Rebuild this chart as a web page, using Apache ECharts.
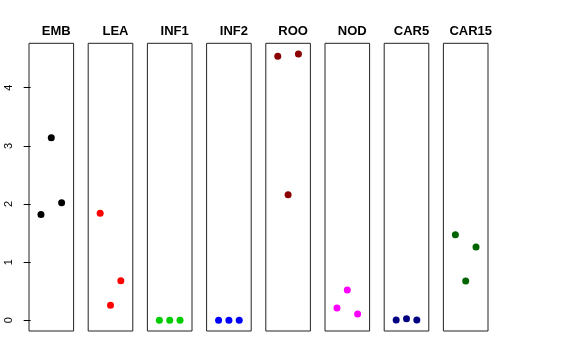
<!DOCTYPE html>
<html>
<head>
<meta charset="utf-8">
<script src="https://cdn.jsdelivr.net/npm/echarts@6/dist/echarts.min.js"></script>
<style>html,body{margin:0;padding:0;background:#fff}#c{width:576px;height:360px}</style>
</head>
<body>
<div id="c"></div>
<script>
const panels = ["EMB","LEA","INF1","INF2","ROO","NOD","CAR5","CAR15"];
const xPositions = [1, 2, 3];
const EMB = [1.82, 3.14, 2.02];
const LEA = [1.84, 0.26, 0.68];
const INF1 = [0, 0, 0];
const INF2 = [0, 0, 0];
const ROO = [4.54, 2.16, 4.58];
const NOD = [0.21, 0.52, 0.11];
const CAR5 = [0.005, 0.025, 0.005];
const CAR15 = [1.47, 0.675, 1.26];
const seriesValues = [EMB, LEA, INF1, INF2, ROO, NOD, CAR5, CAR15];
const colors = ["#000000","#FF0000","#00CD00","#0000FF","#8B0000","#FF00FF","#000080","#006400"];
const yTicks = [0, 1, 2, 3, 4];

const chart = echarts.init(document.getElementById('c'), null, {renderer:'canvas'});
const grids = [], xAxes = [], yAxes = [], series = [], titles = [];
const L0 = 29, STEP = 59.2, W = 44.6, TOP = 43.3, H = 287.7;
const yMin = -0.184, yMax = 4.764;
panels.forEach((name, i) => {
  const left = L0 + i * STEP;
  grids.push({left: left, top: TOP, width: W, height: H, show: true, borderColor: '#222', borderWidth: 1, backgroundColor: 'transparent'});
  xAxes.push({type: 'value', gridIndex: i, min: -0.16, max: 4.16, show: false});
  yAxes.push({
    type: 'value', gridIndex: i, min: yMin, max: yMax, show: i === 0,
    splitLine: {show: false},
    axisLine: {show: false},
    axisTick: {show: true, length: 7, customValues: yTicks, lineStyle: {color: '#000'}},
    axisLabel: {show: true, rotate: 90, margin: 15, customValues: yTicks, fontFamily: 'Liberation Sans, Arial, sans-serif', fontSize: 11, color: '#000'}
  });
  series.push({
    type: 'scatter', xAxisIndex: i, yAxisIndex: i, symbol: 'circle', symbolSize: 7,
    itemStyle: {color: colors[i], opacity: 1}, silent: true,
    data: xPositions.map((x, k) => [x, seriesValues[i][k]])
  });
  titles.push({
    text: name, left: left + W / 2, top: 20, textAlign: 'center',
    textStyle: {fontFamily: 'Liberation Sans, Arial, sans-serif', fontWeight: 'bold', fontSize: 13, color: '#000'}
  });
});
chart.setOption({animation: false, title: titles, grid: grids, xAxis: xAxes, yAxis: yAxes, series: series});
</script>
</body>
</html>
